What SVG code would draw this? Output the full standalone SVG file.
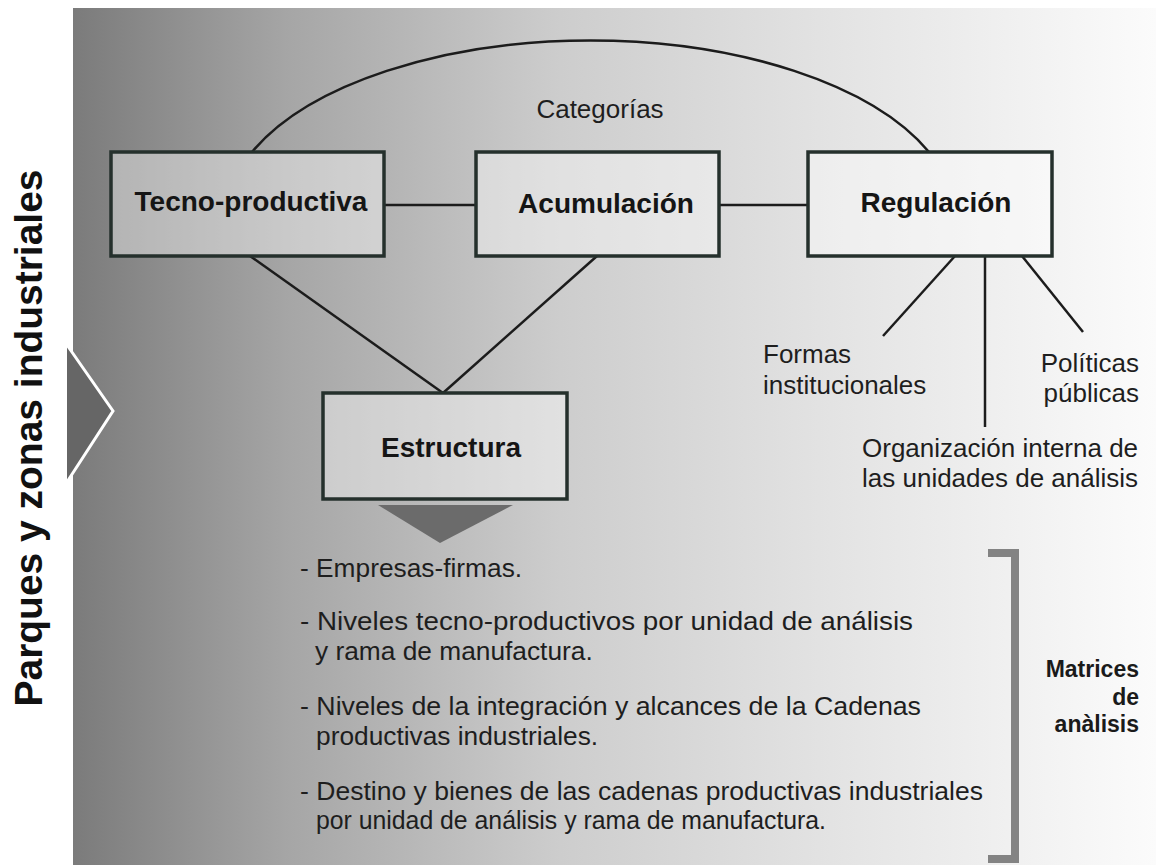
<svg xmlns="http://www.w3.org/2000/svg" width="1156" height="865" viewBox="0 0 1156 865">
  <defs>
    <linearGradient id="bg" gradientUnits="userSpaceOnUse" x1="73" y1="0" x2="1156" y2="0">
      <stop offset="0" stop-color="#7b7b7b"/>
      <stop offset="0.2" stop-color="#a6a6a6"/>
      <stop offset="0.45" stop-color="#cdcdcd"/>
      <stop offset="0.7" stop-color="#e3e3e3"/>
      <stop offset="1" stop-color="#fbfbfb"/>
    </linearGradient>
    <style>
      .box { fill: #ffffff; fill-opacity: 0.4; stroke: #25302c; stroke-width: 3.5; }
      .conn { fill: none; stroke: #1c1c1c; stroke-width: 2.5; }
      .lbl { font-family: "Liberation Sans", Arial, sans-serif; font-weight: bold; font-size: 28px; fill: #151515; text-anchor: middle; }
      .txt { font-family: "Liberation Sans", Arial, sans-serif; font-size: 26px; fill: #1e1e1e; }
      .bul { font-family: "Liberation Sans", Arial, sans-serif; font-size: 26.3px; fill: #1e1e1e; }
      .mat { font-family: "Liberation Sans", Arial, sans-serif; font-weight: bold; font-size: 23px; fill: #1a1a1a; text-anchor: end; }
    </style>
  </defs>

  <rect x="0" y="0" width="1156" height="865" fill="#ffffff"/>
  <rect id="panel" x="73" y="8" width="1083" height="857" fill="url(#bg)"/>

  <g id="side-label">
    <text transform="translate(42,438) rotate(-90)" font-family="Liberation Sans, Arial, sans-serif" font-weight="bold" font-size="38" fill="#111" text-anchor="middle" textLength="537" lengthAdjust="spacingAndGlyphs">Parques y zonas industriales</text>
    <polygon points="67,345 113,411 67,482" fill="#666666"/>
    <polyline points="67,345 113,411 67,482" fill="none" stroke="#ffffff" stroke-width="3"/>
  </g>

  <g id="connectors">
    <path class="conn" d="M252,152 A366,180 0 0 1 929,152"/>
    <line class="conn" x1="384" y1="205" x2="476" y2="205"/>
    <line class="conn" x1="719" y1="205" x2="808" y2="205"/>
    <line class="conn" x1="250" y1="256" x2="443" y2="393"/>
    <line class="conn" x1="597" y1="256" x2="443" y2="393"/>
    <line class="conn" x1="955" y1="256" x2="883" y2="336"/>
    <line class="conn" x1="985" y1="256" x2="985" y2="427"/>
    <line class="conn" x1="1022" y1="256" x2="1083" y2="332"/>
  </g>

  <g id="categorias">
    <text class="txt" x="600" y="118" text-anchor="middle" font-size="27">Categorías</text>
  </g>

  <g id="tecno-productiva">
    <rect class="box" x="111" y="152" width="273" height="104"/>
    <text class="lbl" x="251" y="211">Tecno-productiva</text>
  </g>

  <g id="acumulacion">
    <rect class="box" x="476" y="152" width="243" height="104"/>
    <text class="lbl" x="606" y="213">Acumulación</text>
  </g>

  <g id="regulacion">
    <rect class="box" x="808" y="152" width="244" height="104"/>
    <text class="lbl" x="936" y="212">Regulación</text>
  </g>

  <g id="estructura">
    <rect class="box" x="323" y="393" width="244" height="106"/>
    <text class="lbl" x="451" y="457">Estructura</text>
    <polygon points="378,505 513,505 440,543" fill="#6b6b6b"/>
  </g>

  <g id="formas">
    <text class="txt" x="763" y="363">Formas</text>
    <text class="txt" x="763" y="394">institucionales</text>
  </g>

  <g id="politicas">
    <text class="txt" x="1139" y="372" text-anchor="end">Políticas</text>
    <text class="txt" x="1139" y="402" text-anchor="end">públicas</text>
  </g>

  <g id="organizacion">
    <text class="txt" x="862" y="457">Organización interna de</text>
    <text class="txt" x="862" y="487">las unidades de análisis</text>
  </g>

  <g id="lista">
    <text class="bul" x="300" y="577">- Empresas-firmas.</text>
    <text class="bul" x="300" y="630" textLength="613" lengthAdjust="spacingAndGlyphs">- Niveles tecno-productivos por unidad de análisis</text>
    <text class="bul" x="315" y="660">y rama de manufactura.</text>
    <text class="bul" x="300" y="715" textLength="621" lengthAdjust="spacingAndGlyphs">- Niveles de la integración y alcances de la Cadenas</text>
    <text class="bul" x="316" y="745">productivas industriales.</text>
    <text class="bul" x="300" y="800" textLength="683" lengthAdjust="spacingAndGlyphs">- Destino y bienes de las cadenas productivas industriales</text>
    <text class="bul" x="316" y="829" textLength="510" lengthAdjust="spacingAndGlyphs">por unidad de análisis y rama de manufactura.</text>
  </g>

  <g id="matrices">
    <polyline points="988,553 1015,553 1015,859 988,859" fill="none" stroke="#838383" stroke-width="8"/>
    <text class="mat" x="1139" y="677">Matrices</text>
    <text class="mat" x="1139" y="705">de</text>
    <text class="mat" x="1139" y="732">anàlisis</text>
  </g>
</svg>
